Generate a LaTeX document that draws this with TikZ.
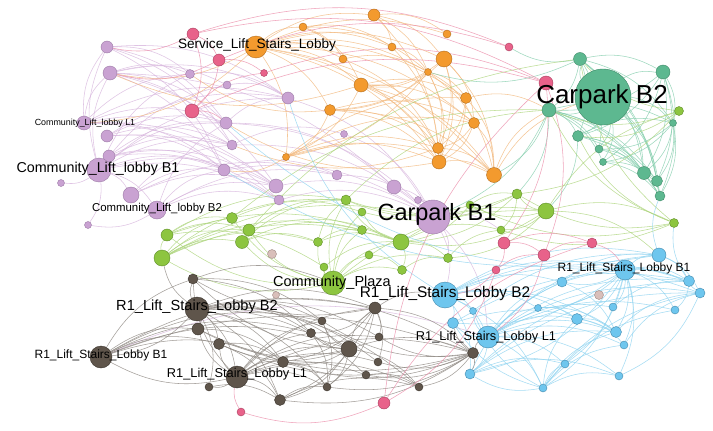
\documentclass[tikz,border=0pt]{standalone}
\usepackage{fontspec}
\setmainfont{Liberation Sans}
\pgfdeclarelayer{back}
\pgfdeclarelayer{bg}
\pgfsetlayers{back,bg,main}
\definecolor{cP}{HTML}{C9A2D2}\definecolor{cPd}{HTML}{9C7AA6}\definecolor{eP}{HTML}{D8B6DE}
\definecolor{cO}{HTML}{F39A2E}\definecolor{cOd}{HTML}{B56D1C}\definecolor{eO}{HTML}{F3B97E}
\definecolor{cT}{HTML}{5DB890}\definecolor{cTd}{HTML}{3E8A68}\definecolor{eT}{HTML}{86CFAE}
\definecolor{cG}{HTML}{8DC540}\definecolor{cGd}{HTML}{5E8E27}\definecolor{eG}{HTML}{ADD57C}
\definecolor{cK}{HTML}{E8628A}\definecolor{cKd}{HTML}{A93E5E}\definecolor{eK}{HTML}{EC8EAB}
\definecolor{cB}{HTML}{6EC6EE}\definecolor{cBd}{HTML}{4389AD}\definecolor{eB}{HTML}{8FD4F1}
\definecolor{cR}{HTML}{5F554B}\definecolor{cRd}{HTML}{3A332C}\definecolor{eR}{HTML}{8E8882}
\definecolor{cX}{HTML}{D9BFBA}\definecolor{cXd}{HTML}{A08A85}
\tikzset{
  nd/.style={circle,inner sep=0pt,line width=0.4pt},
  vP/.style={nd,fill=cP,draw=cPd},
  vO/.style={nd,fill=cO,draw=cOd},
  vT/.style={nd,fill=cT,draw=cTd},
  vG/.style={nd,fill=cG,draw=cGd},
  vK/.style={nd,fill=cK,draw=cKd},
  vB/.style={nd,fill=cB,draw=cBd},
  vR/.style={nd,fill=cR,draw=cRd},
  vX/.style={nd,fill=cX,draw=cXd},
  ed/.style={line width=0.55pt,opacity=0.8},
  lab/.style={inner sep=0pt,text=black},
}
\begin{document}
\begin{tikzpicture}[x=1pt,y=-1pt]
\begin{pgfonlayer}{back}
\fill[white] (0,0) rectangle (713,431);
\end{pgfonlayer}
\useasboundingbox (0,0) rectangle (713,431);
% purple
\node[vP,minimum size=12] (pa) at (107,47) {};
\node[vP,minimum size=14] (pb) at (110,73) {};
\node[vP,minimum size=9] (pc) at (190,74) {};
\node[vP,minimum size=8] (pd) at (227,85) {};
\node[vP,minimum size=12] (pe) at (226,123) {};
\node[vP,minimum size=14] (cl1) at (84,123) {};
\node[vP,minimum size=12] (pf) at (107,136) {};
\node[vP,minimum size=10] (pg) at (232,145) {};
\node[vP,minimum size=12] (ph) at (109,156) {};
\node[vP,minimum size=24] (cb1) at (99,170) {};
\node[vP,minimum size=7] (pi) at (61,183) {};
\node[vP,minimum size=16] (pj) at (131,195) {};
\node[vP,minimum size=18] (cb2) at (157,210) {};
\node[vP,minimum size=7] (pk) at (88,225) {};
\node[vP,minimum size=12] (pl) at (224,170) {};
\node[vP,minimum size=12] (pm) at (288,98) {};
\node[vP,minimum size=7] (pn) at (344,134) {};
\node[vP,minimum size=10] (po) at (337,175) {};
\node[vP,minimum size=14] (pp) at (276,186) {};
\node[vP,minimum size=10] (pq) at (279,200) {};
\node[vP,minimum size=14] (pr) at (394,187) {};
\node[vP,minimum size=7] (ps) at (418,200) {};
\node[vP,minimum size=34] (cpb1) at (433,217) {};
% pink
\node[vK,minimum size=12] (ka) at (193,34) {};
\node[vK,minimum size=12] (kb) at (219,60) {};
\node[vK,minimum size=14] (kc) at (192,111) {};
\node[vK,minimum size=7] (kd) at (264,73) {};
\node[vK,minimum size=8] (ke) at (509,47) {};
\node[vK,minimum size=14] (kf) at (546,83) {};
\node[vK,minimum size=12] (kg) at (504,243) {};
\node[vK,minimum size=12] (kh) at (544,255) {};
\node[vK,minimum size=10] (ki) at (592,243) {};
\node[vK,minimum size=8] (kj) at (496,270) {};
\node[vK,minimum size=12] (kk) at (384,403) {};
\node[vK,minimum size=8] (kl) at (241,412) {};
% orange
\node[vO,minimum size=22] (ssl) at (256,47) {};
\node[vO,minimum size=12] (oa) at (374,15) {};
\node[vO,minimum size=8] (ob) at (303,27) {};
\node[vO,minimum size=8] (oc) at (447,34) {};
\node[vO,minimum size=8] (od) at (392,47) {};
\node[vO,minimum size=8] (oe) at (343,59) {};
\node[vO,minimum size=16] (of) at (444,59) {};
\node[vO,minimum size=7] (og) at (428,72) {};
\node[vO,minimum size=14] (oh) at (361,85) {};
\node[vO,minimum size=11] (oi) at (330,110) {};
\node[vO,minimum size=11] (oj) at (466,98) {};
\node[vO,minimum size=11] (ok) at (474,123) {};
\node[vO,minimum size=11] (ol) at (438,148) {};
\node[vO,minimum size=14] (om) at (439,162) {};
\node[vO,minimum size=15] (on) at (494,175) {};
\node[vO,minimum size=7] (oo) at (286,157) {};
% teal
\node[vT,minimum size=56] (cpb2) at (603,97) {};
\node[vT,minimum size=13] (ta) at (580,59) {};
\node[vT,minimum size=14] (tb) at (663,72) {};
\node[vT,minimum size=14] (tc) at (549,110) {};
\node[vT,minimum size=11] (td) at (578,136) {};
\node[vT,minimum size=7] (te) at (673,123) {};
\node[vT,minimum size=8] (tf) at (599,149) {};
\node[vT,minimum size=7] (tg) at (603,162) {};
\node[vT,minimum size=13] (th) at (644,173) {};
\node[vT,minimum size=11] (ti) at (657,181) {};
\node[vT,minimum size=10] (tj) at (660,196) {};
% green
\node[vG,minimum size=9] (ga) at (679,111) {};
\node[vG,minimum size=10] (gb) at (517,194) {};
\node[vG,minimum size=16] (gc) at (546,211) {};
\node[vG,minimum size=9] (gd) at (674,223) {};
\node[vG,minimum size=8] (ge) at (501,230) {};
\node[vG,minimum size=11] (gf) at (232,218) {};
\node[vG,minimum size=12] (gg) at (167,235) {};
\node[vG,minimum size=16] (gh) at (162,258) {};
\node[vG,minimum size=12] (gi) at (249,230) {};
\node[vG,minimum size=13] (gj) at (242,242) {};
\node[vG,minimum size=10] (gk) at (346,200) {};
\node[vG,minimum size=8] (gl) at (362,212) {};
\node[vG,minimum size=9] (gm) at (362,230) {};
\node[vG,minimum size=9] (gn) at (318,242) {};
\node[vG,minimum size=16] (go) at (401,242) {};
\node[vG,minimum size=8] (gp) at (369,255) {};
\node[vG,minimum size=9] (gq) at (448,258) {};
\node[vG,minimum size=8] (gr) at (324,267) {};
\node[vG,minimum size=9] (gs) at (402,270) {};
\node[vG,minimum size=8] (gt) at (470,205) {};
\node[vG,minimum size=24] (cpz) at (333,283) {};
% pale
\node[vX,minimum size=9] (xa) at (272,254) {};
\node[vX,minimum size=7] (xb) at (276,295) {};
\node[vX,minimum size=9] (xc) at (599,295) {};
% brown
\node[vR,minimum size=24] (rb2) at (197,309) {};
\node[vR,minimum size=10] (ba) at (193,279) {};
\node[vR,minimum size=12] (bb) at (198,329) {};
\node[vR,minimum size=11] (bc) at (219,344) {};
\node[vR,minimum size=22] (rl1) at (237,377) {};
\node[vR,minimum size=8] (bd) at (209,387) {};
\node[vR,minimum size=11] (be) at (280,400) {};
\node[vR,minimum size=11] (bf) at (283,362) {};
\node[vR,minimum size=9] (bg) at (311,333) {};
\node[vR,minimum size=8] (bh) at (322,321) {};
\node[vR,minimum size=8] (bi) at (327,387) {};
\node[vR,minimum size=16] (bj) at (349,349) {};
\node[vR,minimum size=12] (bk) at (375,308) {};
\node[vR,minimum size=8] (bl) at (379,337) {};
\node[vR,minimum size=8] (bm) at (378,362) {};
\node[vR,minimum size=8] (bn) at (366,375) {};
\node[vR,minimum size=8] (bo) at (419,387) {};
\node[vR,minimum size=11] (bp) at (473,353) {};
\node[vR,minimum size=22] (rb1) at (101,357) {};
% blue
\node[vB,minimum size=26] (lb2) at (445,295) {};
\node[vB,minimum size=7] (la) at (473,311) {};
\node[vB,minimum size=11] (lb) at (453,323) {};
\node[vB,minimum size=22] (ll1) at (488,337) {};
\node[vB,minimum size=10] (lc) at (470,374) {};
\node[vB,minimum size=8] (ld) at (543,388) {};
\node[vB,minimum size=8] (le) at (565,364) {};
\node[vB,minimum size=8] (lf) at (619,376) {};
\node[vB,minimum size=7] (lg) at (538,308) {};
\node[vB,minimum size=10] (lh) at (562,282) {};
\node[vB,minimum size=11] (li) at (577,319) {};
\node[vB,minimum size=8] (lj) at (613,307) {};
\node[vB,minimum size=11] (lk) at (616,332) {};
\node[vB,minimum size=8] (lm) at (624,345) {};
\node[vB,minimum size=20] (lbb1) at (625,270) {};
\node[vB,minimum size=14] (ln) at (659,255) {};
\node[vB,minimum size=11] (lo) at (689,281) {};
\node[vB,minimum size=10] (lp) at (700,293) {};
\node[vB,minimum size=8] (lq) at (675,310) {};

\begin{pgfonlayer}{bg}
\foreach \a/\b in {cb1/pa,cb1/pb,cb1/pe,cb1/pg,cb1/pl,cb1/pp,cb1/pm,cb1/pi,cb1/pk,cb1/pj,cb1/cb2,cb1/pc,cb1/pd,cb1/pq,
cl1/pa,cl1/pb,cl1/pe,cl1/pg,cl1/pl,cl1/pp,cl1/pq,cl1/pm,cl1/pc,
pb/pe,pb/pg,pb/pl,pb/pm,pb/pc,pb/pr,pb/pd,pb/pp,pa/pc,pa/pg,pa/pm,pa/pe,pa/pl,
pf/pe,pf/pg,pf/pl,pf/pp,pf/pm,ph/pl,ph/pp,ph/pg,ph/pe,ph/pq,pj/pl,pj/pp,pj/po,pj/pg,
cb2/pl,cb2/pp,cb2/po,cb2/pq,cb2/pe,cb2/pk,
pe/cpb1,pg/cpb1,pl/cpb1,pp/cpb1,pm/cpb1,pr/cpb1,po/cpb1,ps/cpb1,pn/cpb1,pq/cpb1,
pe/pm,pd/pm,pc/pm,pe/pr,pl/po,pg/pn,cpb1/ll1,cpb1/lb2,cpb1/ge,cpb1/gq,rb1/ll1}
  \draw[ed,eP] (\a) to[bend left=20] (\b);
\foreach \a/\b in {ssl/oa,ssl/ob,ssl/od,ssl/oe,ssl/oc,ssl/of,ssl/og,ssl/oh,ssl/oi,ssl/oo,ssl/ol,ssl/om,ssl/on,ssl/oj,ssl/ok,
oa/oc,oa/od,oa/of,oa/og,oa/om,ob/od,ob/oe,ob/og,ob/oh,oe/og,od/og,oe/ol,od/om,
og/oh,og/ol,og/om,og/on,og/ok,og/oj,og/oi,og/oo,of/ok,of/om,of/ol,of/on,of/oh,of/oi,
oh/ol,oh/om,oh/on,oh/ok,oh/oj,oh/oo,oi/ol,oi/om,oi/on,oi/oo,oi/ok,
oo/ol,oo/om,oo/on,oo/ok,oo/oj,oj/ol,oj/om,oj/on,ok/ol,ok/om,ok/on,ol/on,om/on,
on/cpb2,om/pe,ol/pg,oh/pb,oi/pc,ssl/pb,ssl/cl1,oo/pl,on/tc,oj/tc}
  \draw[ed,eO] (\a) to[bend left=20] (\b);
\foreach \a/\b in {cpb2/ta,cpb2/tb,cpb2/tc,cpb2/td,cpb2/te,cpb2/tf,cpb2/tg,cpb2/th,cpb2/ti,cpb2/tj,
ta/tb,ta/tc,ta/td,ta/th,ta/ti,ta/tj,ta/tf,ta/te,tb/te,tb/th,tb/ti,tb/tj,tb/tc,tb/td,tb/tg,
tc/td,tc/th,tc/ti,tc/tj,tc/tf,tc/tg,tc/te,td/th,td/ti,td/tj,td/te,te/th,te/ti,te/tj,te/tf,te/tg,
tf/th,tg/ti,tg/tj,th/tj,tf/tj,tc/on,tc/cpb1,ta/og,ta/ke,tc/gb,td/gc}
  \draw[ed,eT] (\a) to[bend left=20] (\b);
\foreach \a/\b in {gc/gb,gc/ge,gc/gd,gc/ga,gc/go,gc/gt,gc/gq,gd/gb,gd/tc,gd/td,gd/ta,gd/ge,gd/gt,
ga/tc,ga/td,ga/ta,ga/gb,gb/go,gb/gk,gb/ge,gb/gl,
cpz/gr,cpz/gn,cpz/go,cpz/gs,cpz/gp,cpz/gm,cpz/gk,cpz/gl,cpz/gi,cpz/gj,cpz/gf,cpz/gh,cpz/gg,cpz/gc,cpz/gq,
gh/gg,gh/gj,gh/gi,gh/gf,gh/gn,gh/gk,gh/gm,gh/go,gg/gf,gg/gi,gg/gk,gg/go,gg/gr,
gj/gn,gj/gk,gi/gk,gi/go,gj/gm,gf/gl,gn/gm,gn/go,gn/gk,gr/go,
go/gq,go/gs,go/gk,go/gl,go/gc,go/ge,gs/gq,gp/gs,gq/ge,gt/go,gt/gb,gt/gk,
gf/tc,gi/ta,gk/tc,gh/cpb1,gc/ln}
  \draw[ed,eG] (\a) to[bend left=20] (\b);
\foreach \a/\b in {ll1/la,ll1/lb,ll1/lc,ll1/ld,ll1/le,ll1/lf,ll1/lg,ll1/lh,ll1/li,ll1/lj,ll1/lk,ll1/lm,ll1/lbb1,ll1/ln,ll1/lo,ll1/lp,ll1/lq,
lb2/la,lb2/lb,lb2/ll1,lb2/lc,lb2/ld,lb2/lh,lb2/lg,lb2/li,lb2/lbb1,lb2/ln,lb2/lo,lb2/lp,lb2/lk,
lbb1/lh,lbb1/lg,lbb1/li,lbb1/lj,lbb1/lk,lbb1/lm,lbb1/ln,lbb1/lo,lbb1/lp,lbb1/lq,lbb1/ld,lbb1/le,lbb1/lf,lbb1/lc,lbb1/lb,
ld/lc,ld/le,ld/lf,ld/lk,ld/lm,ld/lq,ld/lp,ld/li,ld/lb,ld/la,lc/le,lc/lf,lc/lk,lc/lp,lc/lh,lc/lo,
lh/ln,lh/lo,lh/lk,lg/li,lg/lk,li/lk,li/lm,lj/lo,lk/lp,lm/lp,ln/lo,ln/lp,lo/lq,lp/lf,lb/lk,lb/lo,la/ln,
lb2/pm,lbb1/pe,ln/pl,ln/tj,lo/gd}
  \draw[ed,eB] (\a) to[bend left=20] (\b);
\foreach \a/\b in {rb2/ba,rb2/bb,rb2/bc,rb2/rl1,rb2/bd,rb2/be,rb2/bf,rb2/bg,rb2/bh,rb2/bi,rb2/bj,rb2/bk,rb2/bl,rb2/bm,rb2/bn,rb2/bo,rb2/bp,rb2/rb1,
rl1/ba,rl1/bb,rl1/bc,rl1/bd,rl1/be,rl1/bf,rl1/bg,rl1/bh,rl1/bi,rl1/bj,rl1/bk,rl1/bl,rl1/bm,rl1/bn,rl1/bo,rl1/bp,rl1/rb1,
rb1/ba,rb1/bb,rb1/bc,rb1/bj,rb1/bk,rb1/bp,rb1/bh,rb1/bg,rb1/bf,
bj/ba,bj/bb,bj/bc,bj/bk,bj/be,bj/bi,bj/bp,bj/bo,bj/bh,bj/bg,bj/bf,
bk/be,bk/bi,bk/bf,bk/bl,bk/bm,bk/bp,bk/bg,bk/ba,
bp/be,bp/bi,bp/bo,bp/bm,bp/bn,bp/bl,bp/bf,bp/bh,bp/bb,bp/bc,
be/bi,be/bo,bf/bi,bg/bi,bh/bi,bn/bo,ba/bh,ba/bg,bb/bf,bc/bf,bc/be,bd/be,
bp/ll1,bp/lc,bp/lb,bk/lb2,ba/cpz,rb2/gh}
  \draw[ed,eR] (\a) to[bend left=20] (\b);
\foreach \a/\b in {ka/ke,ka/kf,ka/kb,ka/kc,kb/kc,kb/kd,kc/kd,kb/ke,kd/kf,kc/kf,kf/kg,kf/kh,kg/kh,kh/ki,kg/ki,kj/kh,kj/kk,kk/kl,kk/ki,kk/kf,kl/rl1,kc/pe,ka/pa,kb/pb,kg/kj,ki/lbb1,kh/ll1,kj/lb2}
  \draw[ed,eK] (\a) to[bend left=20] (\b);
\end{pgfonlayer}

% labels
\node[lab,font=\fontsize{13.6}{16}\selectfont] (tssl) at (257,45) {Service\_Lift\_Stairs\_Lobby};
\node[lab,font=\fontsize{26}{30}\selectfont] (tcpb2) at (602,97) {Carpark B2};
\node[lab,font=\fontsize{23.5}{28}\selectfont] (tcpb1) at (437,214) {Carpark B1};
\node[lab,font=\fontsize{8.9}{11}\selectfont] (tcl1) at (85,123) {Community\_Lift\_lobby L1};
\node[lab,font=\fontsize{14.3}{17}\selectfont] (tcb1) at (98,169) {Community\_Lift\_lobby B1};
\node[lab,font=\fontsize{11.4}{14}\selectfont] (tcb2) at (157,209) {Community\_Lift\_lobby B2};
\node[lab,font=\fontsize{14.5}{17}\selectfont] (tcpz) at (332,283) {Community\_Plaza};
\node[lab,font=\fontsize{15.4}{18}\selectfont] (tlb2) at (445,294) {R1\_Lift\_Stairs\_Lobby B2};
\node[lab,font=\fontsize{12}{14}\selectfont] (tlbb1) at (624,268) {R1\_Lift\_Stairs\_Lobby B1};
\node[lab,font=\fontsize{12.8}{15}\selectfont] (tll1) at (486,337) {R1\_Lift\_Stairs\_Lobby L1};
\node[lab,font=\fontsize{14.6}{17}\selectfont] (trb2) at (197,307) {R1\_Lift\_Stairs\_Lobby B2};
\node[lab,font=\fontsize{12}{14}\selectfont] (trb1) at (101,355) {R1\_Lift\_Stairs\_Lobby B1};
\node[lab,font=\fontsize{12.8}{15}\selectfont] (trl1) at (237,374) {R1\_Lift\_Stairs\_Lobby L1};
\end{tikzpicture}
\end{document}
